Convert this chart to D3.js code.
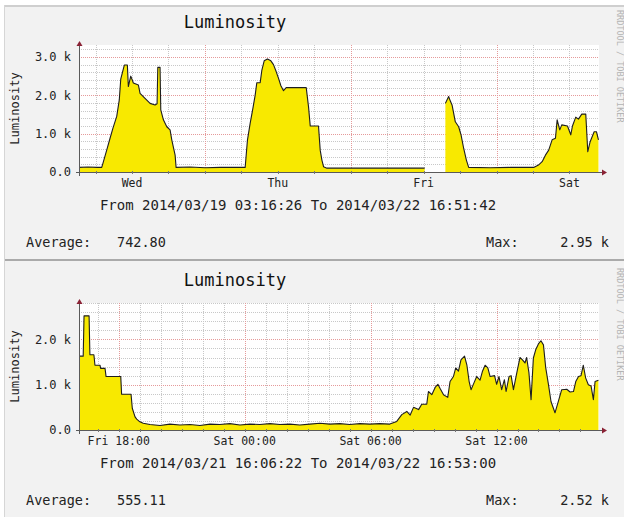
<!DOCTYPE html>
<html>
<head>
<meta charset="utf-8">
<script src="https://cdn.jsdelivr.net/npm/d3@7"></script>
<style>
  body { margin: 0; background: #fff; }
  svg { display: block; }
  text { font-family: "DejaVu Sans Mono", monospace; }
</style>
</head>
<body>
<svg id="chart" width="624" height="517"></svg>
<script>
// ---- data ----
var chartTitle = "Luminosity";
var watermark = "RRDTOOL / TOBI OETIKER";

// week graph: hours since start, value (lux)
var topStart = "2014/03/19 03:16:26", topEnd = "2014/03/22 16:51:42";
var topHours = [0, 1.5, 3.0, 3.74, 3.95, 4.56, 5.11, 5.60, 6.21, 6.63,
  6.87, 7.46, 7.96, 8.12, 8.52, 8.95, 9.77, 10.05, 10.87, 11.70,
  12.52, 12.85, 12.97, 13.34, 13.46, 13.89, 14.45, 14.99, 15.27, 15.82,
  15.98, 18.29, 20.76, 23.23, 27.35, 27.73, 28.17, 28.62, 28.99, 29.27,
  29.82, 30.10, 30.48, 31.02, 31.58, 32.01, 32.45, 32.83, 33.23, 33.66,
  34.10, 37.40, 37.78, 38.06, 39.42, 39.70, 39.98, 40.25, 40.81, 48.0,
  56.89, 58.0, 60.30, 60.84, 61.12, 61.40, 61.94, 62.49, 62.88, 63.31,
  63.76, 64.14, 67.71, 71.0, 74.84, 75.62, 76.23, 76.77, 77.31, 77.87,
  78.42, 78.70, 79.13, 79.46, 80.40, 80.94, 81.22, 81.76, 82.21, 82.75,
  83.41, 83.74, 84.13, 84.79, 85.17, 85.50];
var topValues = [120, 130, 120, 120, 230, 570, 880, 1150, 1450, 1880,
  2420, 2790, 2790, 2230, 2500, 2320, 2270, 2050, 1920, 1790,
  1750, 1780, 2730, 2730, 1620, 1360, 1180, 1100, 840, 440,
  120, 130, 110, 120, 120, 840, 1270, 1660, 2000, 2330,
  2330, 2660, 2900, 2950, 2900, 2800, 2620, 2450, 2250, 2120,
  2200, 2200, 1700, 1200, 1200, 570, 310, 140, 100, 100,
  100, null, 1790, 1970, 1850, 1750, 1310, 1180, 970, 620,
  310, 120, 110, 120, 120, 180, 270, 440, 570, 840,
  880, 1360, 1100, 1230, 1200, 970, 1200, 1430, 1380, 1510,
  1510, 530, 790, 1050, 1050, 840];
var topYMax = 3313;
var topAverage = "742.80", topMax = "2.95 k";

// day graph
var bottomStart = "2014/03/21 16:06:22", bottomEnd = "2014/03/22 16:53:00";
var bottomHours = [0, 0.20, 0.24, 0.48, 0.52, 0.71, 0.76, 1.0, 1.03, 1.24,
  1.29, 1.99, 2.03, 2.48, 2.54, 2.67, 2.75, 2.90, 3.06, 3.38,
  3.86, 4.33, 4.81, 5.29, 5.76, 6.24, 6.71, 7.19, 7.67, 8.14,
  8.62, 9.10, 9.57, 10.05, 10.52, 11.0, 11.48, 11.95, 12.43, 12.90,
  13.38, 13.86, 14.33, 14.81, 15.14, 15.38, 15.62, 15.78, 15.94, 16.18,
  16.33, 16.57, 16.65, 16.81, 16.97, 17.10, 17.20, 17.37, 17.57, 17.68,
  17.84, 17.95, 18.08, 18.20, 18.37, 18.48, 18.59, 18.68, 18.82, 18.95,
  19.11, 19.22, 19.35, 19.48, 19.59, 19.80, 19.90, 20.01, 20.14, 20.27,
  20.35, 20.49, 20.59, 20.70, 20.86, 21.01, 21.13, 21.25, 21.33, 21.44,
  21.54, 21.65, 21.76, 21.89, 22.01, 22.13, 22.24, 22.37, 22.49, 22.68,
  22.84, 23.0, 23.24, 23.40, 23.56, 23.67, 23.80, 23.92, 24.03, 24.14,
  24.27, 24.40, 24.51, 24.59, 24.75];
var bottomValues = [1630, 1630, 2520, 2520, 1660, 1660, 1430, 1430, 1360, 1360,
  1180, 1180, 790, 790, 480, 290, 240, 180, 150, 120,
  100, 130, 110, 120, 100, 130, 120, 140, 110, 130,
  120, 140, 120, 130, 110, 130, 150, 130, 140, 120,
  140, 130, 140, 130, 190, 340, 410, 330, 500, 450,
  570, 570, 850, 780, 940, 1010, 920, 780, 720, 1070,
  1180, 1370, 1300, 1550, 1630, 1440, 1070, 890, 1040, 1180,
  1100, 1290, 1430, 1370, 1180, 1200, 1010, 1180, 890, 1110,
  850, 1180, 1200, 890, 1260, 1600, 1550, 1480, 1600, 1260,
  670, 1590, 1770, 1900, 1970, 1880, 1370, 1000, 630, 380,
  630, 890, 900, 840, 850, 1070, 1180, 1200, 1430, 1150,
  1000, 970, 670, 1070, 1100];
var bottomYMax = 2804;
var bottomAverage = "555.11", bottomMax = "2.52 k";

var yTickValues = [0, 1000, 2000, 3000];

// ---- layout ----
var plotLeft = 79, plotW = 520, plotTop = 45, plotH = 127;
var parseTime = d3.timeParse("%Y/%m/%d %H:%M:%S");

var svg = d3.select("#chart");
svg.append("rect").attr("width", 624).attr("height", 517).attr("fill", "#fff");

function noonLabels(s, e) {
  return d3.timeDay.range(d3.timeDay.floor(s), e)
    .map(function(d) { return d3.timeHour.offset(d, 12); })
    .filter(function(d) { return d >= s && d <= e; });
}

var panels = [
  { off: 0, start: topStart, end: topEnd, hours: topHours, values: topValues, yMax: topYMax,
    minor: d3.timeHour.every(6), major: d3.timeDay, labels: noonLabels, fmt: "%a",
    avg: topAverage, max: topMax, h: 254 },
  { off: 259, start: bottomStart, end: bottomEnd, hours: bottomHours, values: bottomValues, yMax: bottomYMax,
    minor: d3.timeHour, major: d3.timeHour.every(6),
    labels: function(s, e) { return d3.timeHour.every(6).range(s, e); }, fmt: "%a %H:%M",
    avg: bottomAverage, max: bottomMax, h: 260 }
];

panels.forEach(function(p, i) {
  var shift = i === 0 ? 0 : 258;
  var bg = svg.append("g");
  bg.append("rect").attr("x", 4).attr("y", 5 + (i === 0 ? 0 : 254)).attr("width", 622).attr("height", p.h)
    .attr("fill", "#f2f2f2");
  bg.append("line").attr("x1", 4).attr("x2", 624).attr("y1", 6 + (i === 0 ? 0 : 254)).attr("y2", 6 + (i === 0 ? 0 : 254))
    .attr("stroke", i === 0 ? "#cfcfcf" : "#aaaaaa").attr("stroke-width", 2);
  bg.append("line").attr("x1", 4.5).attr("x2", 4.5).attr("y1", 5 + (i === 0 ? 0 : 254)).attr("y2", 5 + (i === 0 ? 0 : 254) + p.h)
    .attr("stroke", "#d6d6d6");

  var g = svg.append("g").attr("transform", "translate(0," + shift + ")");

  var t0 = parseTime(p.start), t1 = parseTime(p.end);
  var data = p.hours.map(function(h, k) {
    return { t: new Date(+t0 + h * 3600e3), v: p.values[k] };
  });

  var x = d3.scaleTime().domain([t0, t1]).range([plotLeft, plotLeft + plotW]);
  var y = d3.scaleLinear().domain([0, p.yMax]).range([plotTop + plotH, plotTop]);

  // canvas
  g.append("rect").attr("x", plotLeft).attr("y", plotTop).attr("width", plotW).attr("height", plotH)
    .attr("fill", "#fff");

  // grid
  var grid = g.append("g").attr("shape-rendering", "crispEdges");
  var minorT = p.minor.range(t0, t1);
  var majorT = p.major.range(t0, t1).map(Number);
  grid.selectAll(".vmin").data(minorT.filter(function(d) { return majorT.indexOf(+d) < 0; }))
    .enter().append("line")
    .attr("x1", function(d) { return Math.round(x(d)) + 0.5; }).attr("x2", function(d) { return Math.round(x(d)) + 0.5; })
    .attr("y1", plotTop).attr("y2", plotTop + plotH)
    .attr("stroke", "#c8c8c8").attr("stroke-dasharray", "1,1");
  var hMinor = d3.range(200, p.yMax, 200).filter(function(v) { return v % 1000 !== 0; });
  grid.selectAll(".hmin").data(hMinor).enter().append("line")
    .attr("x1", plotLeft).attr("x2", plotLeft + plotW)
    .attr("y1", function(d) { return Math.round(y(d)) + 0.5; }).attr("y2", function(d) { return Math.round(y(d)) + 0.5; })
    .attr("stroke", "#c8c8c8").attr("stroke-dasharray", "1,1");
  grid.selectAll(".vmaj").data(majorT).enter().append("line")
    .attr("x1", function(d) { return Math.round(x(d)) + 0.5; }).attr("x2", function(d) { return Math.round(x(d)) + 0.5; })
    .attr("y1", plotTop).attr("y2", plotTop + plotH)
    .attr("stroke", "#e59a9a").attr("stroke-dasharray", "1,1");
  grid.selectAll(".hmaj").data(yTickValues.filter(function(v) { return v > 0 && v < p.yMax; }))
    .enter().append("line")
    .attr("x1", plotLeft).attr("x2", plotLeft + plotW)
    .attr("y1", function(d) { return Math.round(y(d)) + 0.5; }).attr("y2", function(d) { return Math.round(y(d)) + 0.5; })
    .attr("stroke", "#e59a9a").attr("stroke-dasharray", "1,1");

  // area + line
  var defined = function(d) { return d.v != null; };
  var area = d3.area().defined(defined)
    .x(function(d) { return x(d.t); }).y0(y(0)).y1(function(d) { return y(d.v); });
  var line = d3.line().defined(defined)
    .x(function(d) { return x(d.t); }).y(function(d) { return y(d.v); });
  g.append("path").datum(data).attr("d", area).attr("fill", "#f8e900");
  g.append("path").datum(data).attr("d", line).attr("fill", "none")
    .attr("stroke", "#1e1e1e").attr("stroke-width", 1.1).attr("stroke-linejoin", "round");

  // axes
  var ax = g.append("g").attr("shape-rendering", "crispEdges");
  ax.append("line").attr("x1", plotLeft - 3).attr("x2", plotLeft + plotW + 4)
    .attr("y1", plotTop + plotH + 0.5).attr("y2", plotTop + plotH + 0.5).attr("stroke", "#5a5a5a");
  ax.append("line").attr("x1", plotLeft + 0.5).attr("x2", plotLeft + 0.5)
    .attr("y1", plotTop - 2).attr("y2", plotTop + plotH + 4).attr("stroke", "#5a5a5a");
  ax.selectAll(".xt").data(minorT).enter().append("line")
    .attr("x1", function(d) { return Math.round(x(d)) + 0.5; }).attr("x2", function(d) { return Math.round(x(d)) + 0.5; })
    .attr("y1", plotTop + plotH - 1).attr("y2", plotTop + plotH + 2).attr("stroke", "#777");
  g.append("path")
    .attr("d", "M" + (plotLeft + plotW + 3) + "," + (plotTop + plotH - 2.5) + "l5,3l-5,3z")
    .attr("fill", "#8a2235");
  g.append("path")
    .attr("d", "M" + (plotLeft - 2.5) + "," + (plotTop + 1) + "l3,-5l3,5z")
    .attr("fill", "#8a2235");

  // y tick labels
  g.selectAll(".yl").data(yTickValues.filter(function(v) { return v < p.yMax; }))
    .enter().append("text")
    .attr("x", 71).attr("y", function(d) { return y(d); }).attr("dy", "0.36em")
    .attr("text-anchor", "end").attr("font-size", 12).attr("fill", "#222")
    .text(function(d) { return d === 0 ? "0.0" : (d / 1000).toFixed(1) + " k"; });

  // x tick labels
  var fmt = d3.timeFormat(p.fmt);
  g.selectAll(".xl").data(p.labels(t0, t1)).enter().append("text")
    .attr("x", function(d) { return x(d); }).attr("y", 187)
    .attr("text-anchor", "middle").attr("font-size", 11.5).attr("fill", "#222")
    .text(function(d) { return fmt(d); });

  // title, vertical label
  g.append("text").attr("x", 235).attr("y", 28).attr("text-anchor", "middle")
    .attr("font-size", 17).attr("fill", "#111").text(chartTitle);
  g.append("text").attr("transform", "translate(19," + (plotTop + plotH / 2) + ") rotate(-90)")
    .attr("text-anchor", "middle").attr("font-size", 12).attr("fill", "#222").text(chartTitle);

  // period + legend
  g.append("text").attr("x", 298).attr("y", 210).attr("text-anchor", "middle")
    .attr("font-size", 14).attr("fill", "#222").text("From " + p.start + " To " + p.end);
  g.append("text").attr("x", 26).attr("y", 247).attr("font-size", 13.5).attr("fill", "#222").text("Average:");
  g.append("text").attr("x", 117).attr("y", 247).attr("font-size", 13.5).attr("fill", "#222").text(p.avg);
  g.append("text").attr("x", 486).attr("y", 247).attr("font-size", 13.5).attr("fill", "#222").text("Max:");
  g.append("text").attr("x", 609).attr("y", 247).attr("text-anchor", "end")
    .attr("font-size", 13.5).attr("fill", "#222").text(p.max);

  // watermark
  g.append("text").attr("transform", "translate(617,10) rotate(90)")
    .attr("font-size", 8.5).attr("fill", "#b4b4b4").text(watermark);
});
</script>
</body>
</html>
